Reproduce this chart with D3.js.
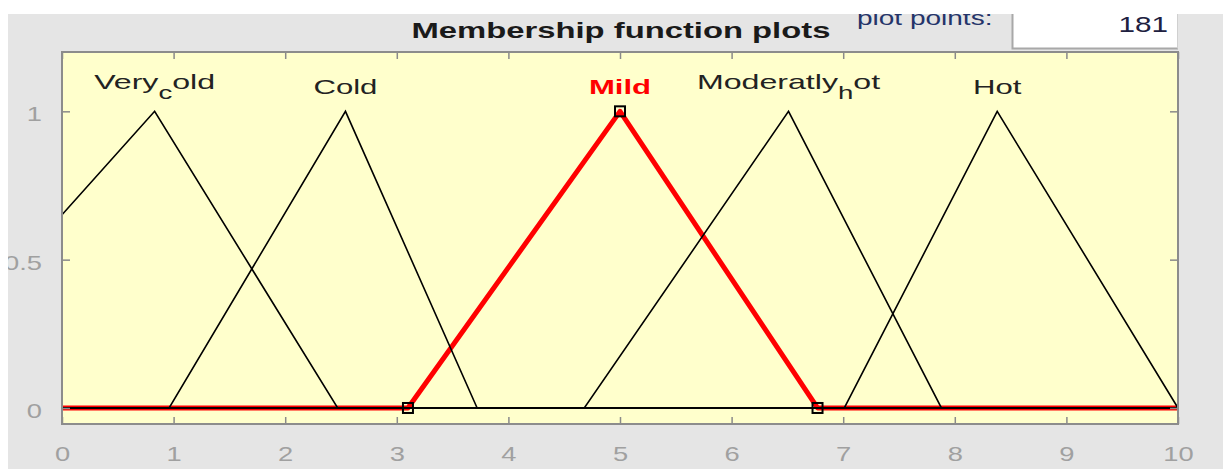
<!DOCTYPE html>
<html>
<head>
<meta charset="utf-8">
<script src="https://cdn.jsdelivr.net/npm/d3@7"></script>
<style>
  body { margin: 0; background: #fff; }
  text { font-family: "Liberation Sans", Arial, sans-serif; }
</style>
</head>
<body>
<svg id="chart"></svg>
<script>
// membership functions (trimf params a, b, c)
const mfNames = ['Very_cold', 'Cold', 'Mild', 'Moderatly_hot', 'Hot'];
const mfParams = [
  [-1.55, 0.83, 2.47],
  [0.96, 2.54, 3.72],
  [3.1, 5.0, 6.77],
  [4.68, 6.51, 7.88],
  [7.01, 8.38, 10.0]
];
const selected = 'Mild';
const xTicks = [0, 1, 2, 3, 4, 5, 6, 7, 8, 9, 10];
const yTicks = [0, 0.5, 1];
const yTickLabels = ['0', '0.5', '1'];
const plotPoints = 181;

const W = 1223, H = 469;
const margin = { top: 52, right: 45, bottom: 45, left: 62 };

const svg = d3.select('#chart').attr('width', W).attr('height', H);

// the screenshot is stretched horizontally, so text gets widened
function stretch(sel, k) {
  sel.each(function(d) {
    const len = this.getComputedTextLength();
    const kk = typeof k === 'function' ? k(d) : k;
    if (len > 0) {
      d3.select(this).attr('textLength', len * kk).attr('lengthAdjust', 'spacingAndGlyphs');
    }
  });
}

// grey panel
svg.append('rect').attr('x', 8).attr('y', 14).attr('width', W - 8).attr('height', H - 14).attr('fill', '#e5e5e5');

const width = W - margin.left - margin.right;
const height = H - margin.top - margin.bottom;

const x = d3.scaleLinear().domain([0, 10]).range([0, width]);
const y = d3.scaleLinear().domain([-0.054, 1.2]).range([height, 0]);

const chart = svg.append('g').attr('transform', `translate(${margin.left},${margin.top})`);

chart.append('rect').attr('width', width).attr('height', height).attr('fill', '#ffffcc');

function trimf(v, p) {
  const [a, b, c] = p;
  if (v <= a || v >= c) return (v === b) ? 1 : 0;
  if (v <= b) return b === a ? 1 : (v - a) / (b - a);
  return c === b ? 1 : (c - v) / (c - b);
}

function mfPoints(p) {
  const xs = [0, 10].concat(p.filter(v => v > 0 && v < 10)).sort((u, v) => u - v);
  return xs.map(v => [v, trimf(v, p)]);
}

const line = d3.line().x(d => x(d[0])).y(d => y(d[1]));

const selIdx = mfNames.indexOf(selected);

// selected MF first (thick red), others drawn over it
chart.append('path')
    .datum(mfPoints(mfParams[selIdx]))
    .attr('d', line)
    .attr('fill', 'none')
    .attr('stroke', '#ff0000')
    .attr('stroke-width', 5)
    .attr('stroke-linejoin', 'round');

chart.selectAll('.mf-line')
    .data(mfParams.filter((p, i) => i !== selIdx))
  .join('path')
    .attr('class', 'mf-line')
    .attr('d', p => line(mfPoints(p)))
    .attr('fill', 'none')
    .attr('stroke', '#000')
    .attr('stroke-width', 1.6);

// vertex squares on selected MF
chart.selectAll('.vertex')
    .data(mfParams[selIdx])
  .join('rect')
    .attr('class', 'vertex')
    .attr('x', v => x(v) - 5)
    .attr('y', v => y(trimf(v, mfParams[selIdx])) - 5)
    .attr('width', 10)
    .attr('height', 10)
    .attr('fill', 'none')
    .attr('stroke', '#000')
    .attr('stroke-width', 2);

// MF labels (TeX-style "_" gives a subscript, as in the original)
const labels = chart.selectAll('.mf-label')
    .data(mfNames)
  .join('text')
    .attr('class', 'mf-label')
    .attr('x', (d, i) => x(Math.max(0.8, Math.min(9.6, mfParams[i][1]))))
    .attr('y', d => d.includes('_') ? 37 : 42)
    .attr('text-anchor', 'middle')
    .style('font-size', '21px')
    .style('font-weight', d => d === selected ? 'bold' : 'normal')
    .attr('fill', d => d === selected ? '#ff0000' : '#222');

labels.each(function(d) {
  const t = d3.select(this);
  const parts = d.split('_');
  t.append('tspan').text(parts[0]);
  if (parts.length > 1) {
    t.append('tspan').attr('dy', 10).style('font-size', '18px').text(parts[1][0]);
    t.append('tspan').attr('dy', -10).text(parts[1].slice(1));
  }
});
stretch(labels, d => d.includes('_') ? 1.53 : 1.48);

// axes (ticks pointing inward)
chart.append('g').attr('class', 'axis')
    .attr('transform', `translate(0,${height})`)
    .call(d3.axisBottom(x).tickValues(xTicks).tickSize(-7).tickPadding(22).tickFormat(d3.format('d')));
chart.append('g').attr('class', 'axis')
    .call(d3.axisTop(x).tickValues(xTicks).tickSize(-7).tickFormat(''));
const yAxis = chart.append('g').attr('class', 'axis')
    .call(d3.axisLeft(y).tickValues(yTicks).tickSize(-8).tickPadding(20).tickFormat((d, i) => yTickLabels[i]));
chart.append('g').attr('class', 'axis')
    .attr('transform', `translate(${width},0)`)
    .call(d3.axisRight(y).tickValues(yTicks).tickSize(-8).tickFormat(''));

chart.selectAll('.axis .domain').remove();
chart.selectAll('.axis line').attr('stroke', '#8a8a8a').attr('stroke-width', 1.5);
chart.selectAll('.axis text')
    .attr('fill', '#a0a0a0')
    .style('font-size', '21px')
    .style('font-family', '"Liberation Sans", Arial, sans-serif');
yAxis.selectAll('text').attr('dy', '0.45em');
stretch(chart.selectAll('.axis text'), 1.3);

// box
chart.append('rect')
    .attr('width', width).attr('height', height)
    .attr('fill', 'none').attr('stroke', '#8c8c8c').attr('stroke-width', 2);

// title
const title = svg.append('text')
    .attr('x', 621).attr('y', 38)
    .attr('text-anchor', 'middle')
    .style('font-size', '22px').style('font-weight', 'bold')
    .attr('fill', '#1a1a1a')
    .text('Membership function plots');
stretch(title, 1.49);

// plot points control
const ppLabel = svg.append('text')
    .attr('x', 857).attr('y', 25)
    .style('font-size', '20px')
    .attr('fill', '#24346a')
    .text('plot points:');
stretch(ppLabel, 1.4);

svg.append('rect')
    .attr('x', 1012).attr('y', 14).attr('width', 166).attr('height', 34)
    .attr('fill', '#fff');
svg.append('path')
    .attr('d', 'M1012.5,14 V48.5 H1178')
    .attr('fill', 'none').attr('stroke', '#a8a8a8').attr('stroke-width', 2);
svg.append('path')
    .attr('d', 'M1177.5,14 V48.5')
    .attr('fill', 'none').attr('stroke', '#d0d0d0').attr('stroke-width', 1);
const ppValue = svg.append('text')
    .attr('x', 1168).attr('y', 32)
    .attr('text-anchor', 'end')
    .style('font-size', '22px')
    .attr('fill', '#202040')
    .text(plotPoints);
stretch(ppValue, 1.35);

// white strips at top and left (crop of the original window)
svg.append('rect').attr('x', 0).attr('y', 0).attr('width', W).attr('height', 14).attr('fill', '#fff');
svg.append('rect').attr('x', 0).attr('y', 0).attr('width', 8).attr('height', H).attr('fill', '#fff');
</script>
</body>
</html>
